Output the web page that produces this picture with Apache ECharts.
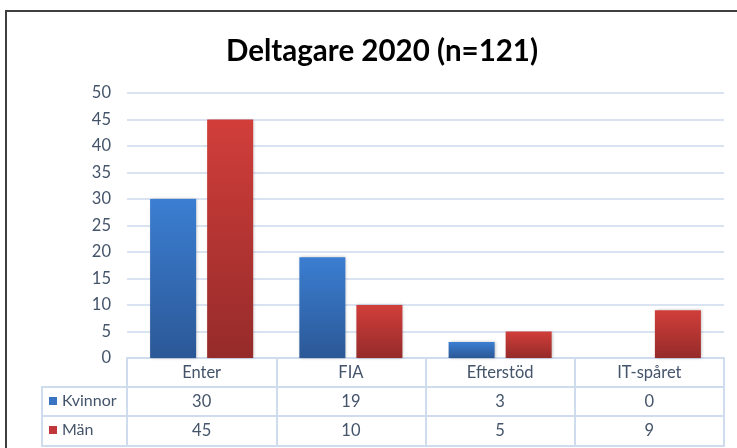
<!DOCTYPE html>
<html>
<head>
<meta charset="utf-8">
<script src="https://cdn.jsdelivr.net/npm/echarts@6/dist/echarts.min.js"></script>
<style>
  html, body { margin: 0; padding: 0; background: #fff; }
  #chart1 { width: 737px; height: 448px; }
</style>
</head>
<body>
<div id="chart1"></div>
<script>
var categories = ['Enter', 'FIA', 'Efterstöd', 'IT-spåret'];
var kvinnor = [30, 19, 3, 0];
var man = [45, 10, 5, 9];
var seriesNames = ['Kvinnor', 'Män'];
var yTicks = { min: 0, max: 50, step: 5 };

var textColor = '#44546a';
var lineColor = '#cfdcee';
var fontName = 'Lato, "Noto Sans", sans-serif';

function grad(top, bottom) {
    return new echarts.graphic.LinearGradient(0, 0, 0, 1, [
        { offset: 0, color: top },
        { offset: 1, color: bottom }
    ]);
}

function drawChart() {
    var myChart = echarts.init(document.getElementById('chart1'));

    var option = {
        animation: false,
        backgroundColor: '#fff',
        textStyle: { fontFamily: fontName },
        title: {
            text: 'Deltagare 2020 (n=121)',
            left: 221,
            top: 31,
            textStyle: { fontSize: 29.5, fontWeight: 'bold', color: '#000', fontFamily: fontName }
        },
        legend: {
            orient: 'vertical',
            left: 49,
            top: 391,
            padding: 0,
            itemGap: 9,
            itemWidth: 8,
            itemHeight: 8,
            icon: 'rect',
            selectedMode: false,
            textStyle: { fontSize: 16, color: textColor, lineHeight: 20 },
            data: [
                { name: seriesNames[0], itemStyle: { color: '#3873c4' } },
                { name: seriesNames[1], itemStyle: { color: '#c0363a' } }
            ]
        },
        grid: { left: 127, right: 13, top: 93, bottom: 90 },
        xAxis: [
            {   // kategorirad
                type: 'category',
                data: categories,
                position: 'bottom',
                axisLine: { lineStyle: { color: lineColor, width: 2 } },
                axisTick: { show: true, interval: 0, length: 88, lineStyle: { color: lineColor, width: 2 } },
                axisLabel: { interval: 0, margin: 6, fontSize: 16.5, color: textColor }
            },
            {   // Kvinnor-rad
                type: 'category',
                data: kvinnor.map(String),
                position: 'bottom',
                offset: 29,
                axisLine: { lineStyle: { color: lineColor, width: 2 } },
                axisTick: { show: false },
                axisLabel: { interval: 0, margin: 6, fontSize: 16.5, color: textColor }
            },
            {   // Män-rad
                type: 'category',
                data: man.map(String),
                position: 'bottom',
                offset: 58,
                axisLine: { lineStyle: { color: lineColor, width: 2 } },
                axisTick: { show: false },
                axisLabel: { interval: 0, margin: 6, fontSize: 16.5, color: textColor }
            },
            {   // nederkant
                type: 'category',
                data: categories,
                position: 'bottom',
                offset: 88,
                axisLine: { lineStyle: { color: lineColor, width: 2 } },
                axisTick: { show: false },
                axisLabel: { show: false }
            }
        ],
        yAxis: {
            type: 'value',
            min: yTicks.min,
            max: yTicks.max,
            interval: yTicks.step,
            axisLine: { show: false },
            axisTick: { show: false },
            axisLabel: { margin: 16, fontSize: 16.5, color: textColor },
            splitLine: { lineStyle: { color: '#d9e3f2', width: 2 } }
        },
        series: [
            {
                name: seriesNames[0],
                type: 'bar',
                xAxisIndex: 0,
                barWidth: 46,
                barGap: '24%',
                data: kvinnor,
                itemStyle: {
                    color: grad('#3b7ed2', '#2b5896'),
                    shadowColor: 'rgba(0,0,0,0.25)',
                    shadowBlur: 3,
                    shadowOffsetX: 1
                }
            },
            {
                name: seriesNames[1],
                type: 'bar',
                xAxisIndex: 0,
                barWidth: 46,
                barGap: '24%',
                data: man,
                itemStyle: {
                    color: grad('#d13e3a', '#952b2a'),
                    shadowColor: 'rgba(0,0,0,0.25)',
                    shadowBlur: 3,
                    shadowOffsetX: 1
                }
            }
        ],
        graphic: [
            // ram runt diagrammet
            { type: 'line', shape: { x1: 6, y1: 11, x2: 737, y2: 11 }, style: { stroke: '#3f3f3f', lineWidth: 2 } },
            { type: 'line', shape: { x1: 6, y1: 10, x2: 6, y2: 448 }, style: { stroke: '#3f3f3f', lineWidth: 2 } },
            // tabellens vänstra kolumn
            { type: 'polyline', shape: { points: [[127, 387], [42, 387], [42, 446], [127, 446]] }, style: { stroke: lineColor, lineWidth: 2, fill: null } },
            { type: 'line', shape: { x1: 42, y1: 416, x2: 127, y2: 416 }, style: { stroke: lineColor, lineWidth: 2 } }
        ]
    };

    myChart.setOption(option);
}

drawChart();
</script>
</body>
</html>
